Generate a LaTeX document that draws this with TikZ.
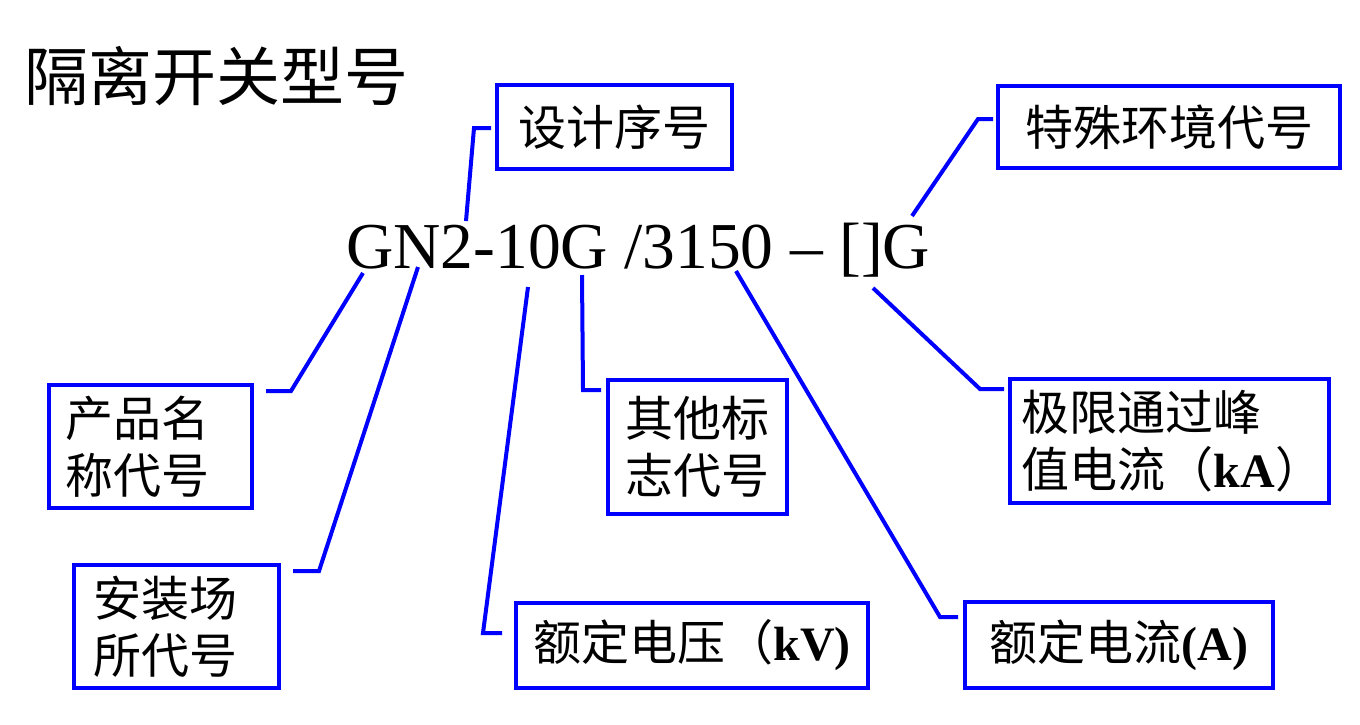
\documentclass[tikz,border=0pt]{standalone}
\usepackage{fontspec}
\setmainfont{Liberation Serif}
\newfontfamily\cjk{Noto Sans CJK SC}
\begin{document}
\begin{tikzpicture}[x=1pt,y=-1pt,
  lbl/.style={draw=blue, line width=4pt, text=black, inner sep=0pt,
    font=\cjk\fontsize{48}{57}\selectfont},
  conn/.style={draw=blue, line width=4pt, line join=miter}]
\useasboundingbox (0,0) rectangle (1360,724);
\fill[white] (0,0) rectangle (1360,724);

\node[inner sep=0pt, font=\cjk\fontsize{64}{64}\selectfont] (title) at (216,76) {隔离开关型号};
\node[inner sep=0pt, anchor=base west, font=\fontsize{65.5}{66}\selectfont] (model) at (346,268) {GN2-10G /3150 -- []G};

% label boxes
\node[lbl, minimum width=235, minimum height=84] (sj) at (614.5,127) {设计序号};
\node[lbl, minimum width=342, minimum height=82] (ts) at (1169,127) {特殊环境代号};
\node[lbl, align=left, text width=171, inner xsep=16pt, minimum height=123] (cp) at (150.5,446.5) {产品名\\称代号};
\node[lbl, align=left, text width=167, inner xsep=19pt, minimum height=123] (az) at (176.5,626.5) {安装场\\所代号};
\node[lbl, align=center, minimum width=179, minimum height=134] (qt) at (697.5,447) {其他标\\志代号};
\node[lbl, minimum width=352, minimum height=85] (dy) at (692,645.5) {额定电压（\textbf{\fontspec{Liberation Serif}kV)}};
\node[lbl, align=left, minimum width=319, minimum height=124] (jx) at (1169.5,441) {\hspace*{6pt}极限通过峰\\\hspace*{6pt}值电流（\textbf{\fontspec{Liberation Serif}kA}）};
\node[lbl, minimum width=308, minimum height=86] (dl) at (1119,645) {额定电流\textbf{\fontspec{Liberation Serif}(A)}};

% points on the model string
\coordinate (pG1) at (363,273);
\coordinate (pN)  at (418,267);
\coordinate (p2)  at (466,221);
\coordinate (p0)  at (528,287);
\coordinate (pG2) at (582,275);
\coordinate (p50) at (736,271);
\coordinate (pBr) at (873,288);
\coordinate (pG3) at (912,216);

% connectors
\draw[conn] ([shift={(-4,1)}]sj.west) -- ++(-17,0) -- (p2);
\draw[conn] ([shift={(-3,-8)}]ts.west) -- ++(-15,0) -- (pG3);
\draw[conn] ([shift={(12,8)}]cp.north east) -- ++(25,0) -- (pG1);
\draw[conn] ([shift={(12,8)}]az.north east) -- ++(26,0) -- (pN);
\draw[conn] ([shift={(-12,-12.5)}]dy.west) -- ++(-19,0) -- (p0);
\draw[conn] ([shift={(-5,12)}]qt.north west) -- ++(-18,0) -- (pG2);
\draw[conn] ([shift={(-5,17)}]dl.north west) -- ++(-18,0) -- (p50);
\draw[conn] ([shift={(-4,12)}]jx.north west) -- ++(-24,0) -- (pBr);
\end{tikzpicture}
\end{document}
